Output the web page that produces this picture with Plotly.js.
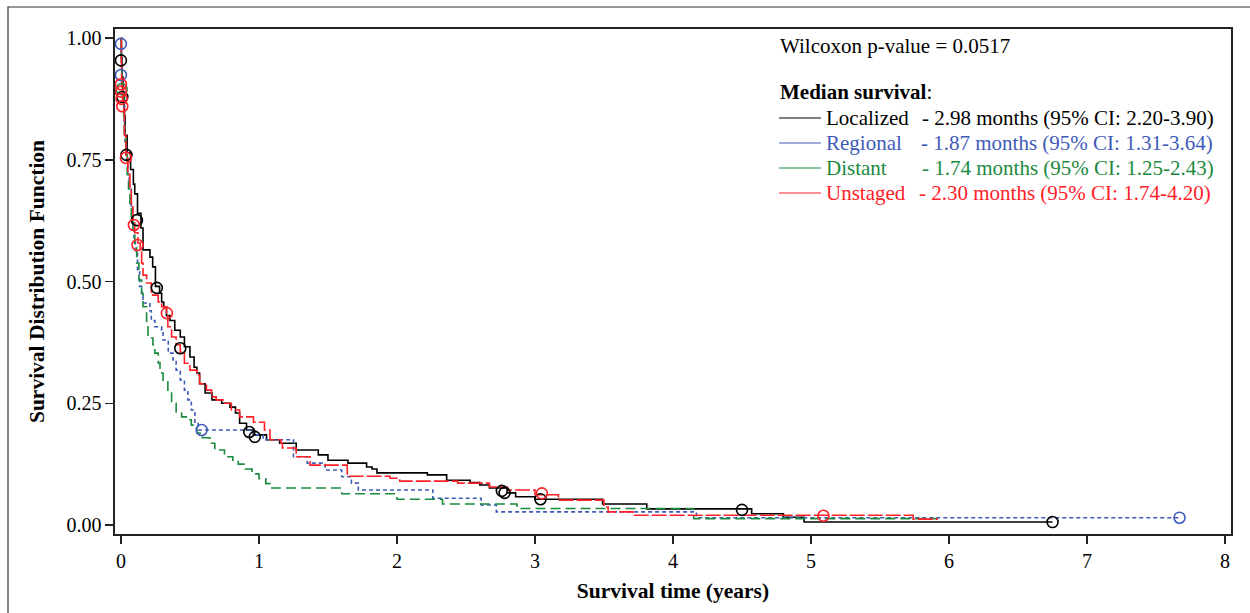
<!DOCTYPE html>
<html><head><meta charset="utf-8">
<script src="https://cdn.plot.ly/plotly-3.0.1.min.js"></script>
<style>body{margin:0;background:#fff}#chart{width:1250px;height:613px}</style>
</head><body><div id="chart"></div>
<script>
// ---- data (years, survival) ----
const locT = [0,0.003,0.008,0.015,0.025,0.03,0.045,0.07,0.09,0.10,0.12,0.145,0.16,0.21,0.23,0.25,0.28,0.295,0.31,0.33,0.355,0.39,0.43,0.46,0.50,0.53,0.55,0.57,0.61,0.66,0.73,0.79,0.83,0.86,0.91,0.96,1.055,1.15,1.27,1.43,1.50,1.645,1.78,1.82,1.855,2.22,2.36,2.53,2.60,2.67,2.80,2.86,3.00,3.49,3.81,4.57,4.80,4.95,6.75];
const locS = [1.0,0.96,0.92,0.88,0.84,0.80,0.765,0.73,0.70,0.68,0.64,0.61,0.565,0.55,0.53,0.49,0.476,0.458,0.448,0.43,0.42,0.40,0.386,0.366,0.345,0.324,0.312,0.29,0.271,0.257,0.25,0.242,0.23,0.209,0.195,0.185,0.175,0.168,0.154,0.144,0.133,0.127,0.119,0.115,0.107,0.103,0.092,0.087,0.082,0.076,0.066,0.058,0.053,0.043,0.033,0.023,0.016,0.006,0.006];
const locCT = [0.0,0.01,0.04,0.116,0.26,0.43,0.93,0.97,2.76,2.78,3.04,4.50,6.75];
const locCS = [0.954,0.879,0.76,0.626,0.487,0.363,0.191,0.181,0.070,0.066,0.053,0.031,0.006];

const regT = [0,0.002,0.004,0.006,0.01,0.02,0.025,0.03,0.04,0.05,0.06,0.075,0.085,0.095,0.105,0.12,0.135,0.15,0.16,0.21,0.22,0.246,0.295,0.305,0.343,0.377,0.40,0.43,0.46,0.485,0.51,0.536,0.56,0.96,1.03,1.25,1.35,1.48,1.60,1.67,1.72,2.26,2.61,2.72,4.17,7.67];
const regS = [1.0,0.99,0.96,0.924,0.90,0.86,0.82,0.78,0.75,0.72,0.69,0.65,0.62,0.59,0.56,0.52,0.49,0.47,0.456,0.44,0.42,0.407,0.40,0.38,0.353,0.339,0.318,0.298,0.277,0.257,0.236,0.211,0.195,0.185,0.175,0.14,0.127,0.113,0.099,0.086,0.072,0.055,0.041,0.027,0.015,0.015];
const regCT = [0.0,0.0,0.585,7.67];
const regCS = [0.988,0.924,0.195,0.015];

const disT = [0,0.003,0.006,0.01,0.02,0.025,0.035,0.045,0.055,0.065,0.075,0.087,0.10,0.114,0.13,0.15,0.16,0.186,0.196,0.232,0.246,0.27,0.283,0.305,0.34,0.367,0.40,0.44,0.486,0.51,0.55,0.59,0.645,0.68,0.75,0.81,0.85,0.90,0.95,1.00,1.05,1.08,1.60,2.00,2.33,2.87,4.15,5.91];
const disS = [1.0,0.95,0.91,0.88,0.84,0.80,0.76,0.72,0.69,0.66,0.63,0.606,0.57,0.538,0.503,0.476,0.448,0.415,0.384,0.37,0.353,0.333,0.312,0.294,0.271,0.25,0.232,0.222,0.216,0.205,0.189,0.179,0.168,0.154,0.14,0.133,0.125,0.115,0.105,0.095,0.085,0.076,0.064,0.053,0.043,0.034,0.013,0.013];
const disCT = [0.005];
const disCS = [0.895];

const unsT = [0,0.003,0.005,0.008,0.012,0.02,0.025,0.036,0.05,0.065,0.075,0.087,0.10,0.123,0.14,0.15,0.16,0.186,0.22,0.27,0.295,0.33,0.34,0.367,0.40,0.43,0.46,0.50,0.55,0.57,0.62,0.657,0.69,0.74,0.80,0.86,0.96,1.04,1.08,1.16,1.17,1.27,1.37,1.64,1.95,2.02,2.44,2.67,2.80,3.00,3.17,3.50,3.53,3.71,5.74,5.92];
const unsS = [1.0,0.95,0.91,0.89,0.87,0.85,0.80,0.754,0.72,0.69,0.66,0.62,0.60,0.579,0.565,0.538,0.513,0.497,0.472,0.458,0.448,0.435,0.407,0.386,0.37,0.355,0.332,0.318,0.308,0.29,0.277,0.263,0.257,0.25,0.236,0.222,0.211,0.195,0.175,0.168,0.158,0.14,0.123,0.10,0.096,0.09,0.086,0.078,0.072,0.062,0.051,0.037,0.027,0.020,0.012,0.012];
const unsCT = [0.0,0.0,0.005,0.01,0.036,0.094,0.12,0.333,3.05,5.09];
const unsCS = [0.905,0.89,0.875,0.86,0.754,0.616,0.575,0.435,0.065,0.019];

const groups = ['Localized','Regional','Distant','Unstaged'];
const medTexts = ['- 2.98 months (95% CI: 2.20-3.90)','- 1.87 months (95% CI: 1.31-3.64)','- 1.74 months (95% CI: 1.25-2.43)','- 2.30 months (95% CI: 1.74-4.20)'];
const pText = 'Wilcoxon p-value = 0.0517';
const yTicks = [0,0.25,0.5,0.75,1.0];
const yTickText = ['0.00','0.25','0.50','0.75','1.00'];
const xTicks = [0,1,2,3,4,5,6,7,8];

// ---- styles ----
const colors = ['#000000','#3F5BB8','#1B8A3E','#FF2028'];
const dashes = ['solid','4px,3px','10px,5px','15px,3px'];
const FONT = 'Liberation Serif, Times New Roman, serif';
const LEGSIZE = 21;

const series = [[locT,locS,locCT,locCS],[regT,regS,regCT,regCS],[disT,disS,disCT,disCS],[unsT,unsS,unsCT,unsCS]];
const traces = [];
series.forEach((s,i)=>{
  traces.push({x:s[0],y:s[1],type:'scatter',mode:'lines',line:{shape:'hv',color:colors[i],width:1.6,dash:dashes[i]},showlegend:false,hoverinfo:'skip'});
});
series.forEach((s,i)=>{
  traces.push({x:s[2],y:s[3],type:'scatter',mode:'markers',marker:{symbol:'circle-open',size:11,color:colors[i],line:{width:1.6,color:colors[i]}},showlegend:false,hoverinfo:'skip'});
});

// plot area in pixels: x 115..1231, y 29..534
const L=115,R=1231,T=29,B=534;
const px = v => (v-L)/(R-L);
const py = v => (B-v)/(B-T);

const shapes = [
  {type:'rect',xref:'paper',yref:'paper',x0:px(8),x1:px(1253),y0:py(640),y1:py(7),line:{color:'#333',width:1.2},fillcolor:'rgba(0,0,0,0)',layer:'below'}
];
const annotations = [
  {xref:'paper',yref:'paper',x:px(778),y:py(46),xanchor:'left',yanchor:'middle',text:pText,showarrow:false,font:{family:FONT,size:LEGSIZE,color:'#000'}},
  {xref:'paper',yref:'paper',x:px(778),y:py(92),xanchor:'left',yanchor:'middle',text:'<b>Median survival</b>:',showarrow:false,font:{family:FONT,size:LEGSIZE,color:'#000'}}
];
const rowY = [118,143,168,193];
const medX = [920,918.5,919.5,917];
groups.forEach((g,i)=>{
  shapes.push({type:'line',xref:'paper',yref:'paper',x0:px(779),x1:px(821),y0:py(rowY[i]),y1:py(rowY[i]),line:{color:colors[i],width:1.2}});
  annotations.push({xref:'paper',yref:'paper',x:px(824),y:py(rowY[i]),xanchor:'left',yanchor:'middle',text:g,showarrow:false,font:{family:FONT,size:LEGSIZE,color:colors[i]}});
  annotations.push({xref:'paper',yref:'paper',x:px(medX[i]),y:py(rowY[i]),xanchor:'left',yanchor:'middle',text:medTexts[i],showarrow:false,font:{family:FONT,size:LEGSIZE,color:colors[i]}});
});

const layout = {
  width:1250,height:613,
  margin:{l:L,r:1250-R,t:T,b:613-B},
  paper_bgcolor:'#fff',plot_bgcolor:'#fff',
  font:{family:FONT,color:'#000'},
  xaxis:{range:[-0.043,8.043],tickvals:xTicks,ticks:'outside',ticklen:8,tickwidth:1.5,tickcolor:'#222',
    showline:true,mirror:true,linecolor:'#222',linewidth:1.6,showgrid:false,zeroline:false,
    tickfont:{family:FONT,size:20,color:'#000'},
    title:{text:'<b>Survival time (years)</b>',font:{family:FONT,size:21.5,color:'#000'},standoff:12}},
  yaxis:{range:[-0.0185,1.0185],tickvals:yTicks,ticktext:yTickText,ticks:'outside',ticklen:8,tickwidth:1.5,tickcolor:'#222',
    showline:true,mirror:true,linecolor:'#222',linewidth:1.6,showgrid:false,zeroline:false,
    tickfont:{family:FONT,size:20,color:'#000'},
    title:{text:'<b>Survival Distribution Function</b>',font:{family:FONT,size:21.5,color:'#000'},standoff:16}},
  shapes:shapes,annotations:annotations,showlegend:false
};
Plotly.newPlot('chart',traces,layout,{staticPlot:true,displayModeBar:false});
</script></body></html>
